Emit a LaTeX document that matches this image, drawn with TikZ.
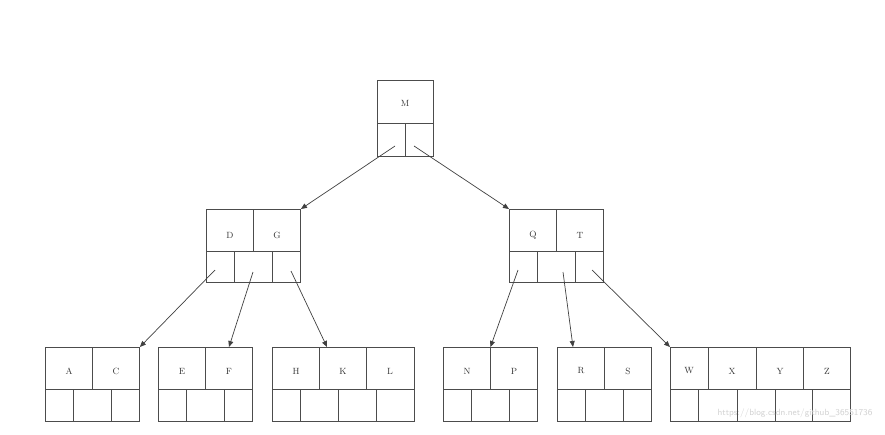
\documentclass[tikz,border=0pt]{standalone}
\usetikzlibrary{arrows.meta}
\begin{document}
\begin{tikzpicture}[x=1pt,y=-1pt,
  box/.style={draw=black!70,line width=0.9pt,inner sep=0pt,anchor=north west},
  key/.style={font=\small,text=black!80},
  div/.style={draw=black!70,line width=0.9pt},
  conn/.style={draw=black!75,line width=0.7pt,-{Triangle[length=6pt,width=5pt]}}]
\useasboundingbox (0,0) rectangle (885,434);
% root
\node[box,minimum width=56pt,minimum height=76pt] (root) at (377,80) {};
\draw[div] (377,123)--(433,123) (405,123)--(405,156);
\node[key] (kM) at (405,103) {M};
% DG
\node[box,minimum width=94pt,minimum height=73pt] (dg) at (206,209) {};
\draw[div] (206,251)--(300,251) (253,209)--(253,251) (234,251)--(234,282) (272,251)--(272,282);
\node[key] (kD) at (230,235) {D};
\node[key] (kG) at (277,235) {G};
% QT
\node[box,minimum width=94pt,minimum height=73pt] (qt) at (509,209) {};
\draw[div] (509,251)--(603,251) (556,209)--(556,251) (537,251)--(537,282) (575,251)--(575,282);
\node[key] (kQ) at (533,235) {Q};
\node[key] (kT) at (580,235) {T};
% leaves
\node[box,minimum width=94pt,minimum height=74pt] (ac) at (45,347) {};
\draw[div] (45,389)--(139,389) (92,347)--(92,389) (73,389)--(73,421) (111,389)--(111,421);
\node[key] (kA) at (69,371) {A};
\node[key] (kC) at (116,371) {C};
\node[box,minimum width=94pt,minimum height=74pt] (ef) at (158,347) {};
\draw[div] (158,389)--(252,389) (205,347)--(205,389) (186,389)--(186,421) (224,389)--(224,421);
\node[key] (kE) at (182,371) {E};
\node[key] (kF) at (229,371) {F};
\node[box,minimum width=142pt,minimum height=74pt] (hkl) at (272,347) {};
\draw[div] (272,389)--(414,389) (319,347)--(319,389) (366,347)--(366,389)
  (300,389)--(300,421) (338,389)--(338,421) (376,389)--(376,421);
\node[key] (kH) at (296,371) {H};
\node[key] (kK) at (343,371) {K};
\node[key] (kL) at (390,371) {L};
\node[box,minimum width=94pt,minimum height=74pt] (np) at (443,347) {};
\draw[div] (443,389)--(537,389) (490,347)--(490,389) (471,389)--(471,421) (509,389)--(509,421);
\node[key] (kN) at (467,371) {N};
\node[key] (kP) at (514,371) {P};
\node[box,minimum width=94pt,minimum height=74pt] (rs) at (557,347) {};
\draw[div] (557,389)--(651,389) (604,347)--(604,389) (585,389)--(585,421) (623,389)--(623,421);
\node[key] (kR) at (581,371) {R};
\node[key] (kS) at (628,371) {S};
\node[box,minimum width=180pt,minimum height=74pt] (wz) at (670,347) {};
\draw[div] (670,389)--(850,389) (708,347)--(708,389) (756,347)--(756,389) (803,347)--(803,389)
  (698,389)--(698,421) (737,389)--(737,421) (775,389)--(775,421) (812,389)--(812,421);
\node[key] (kW) at (689,371) {W};
\node[key] (kX) at (732,371) {X};
\node[key] (kY) at (780,371) {Y};
\node[key] (kZ) at (827,371) {Z};
% pointer coordinates
\coordinate (r1) at (395,146); \coordinate (r2) at (414,146);
\coordinate (d1) at (215,270); \coordinate (d2) at (253,272); \coordinate (d3) at (291,271);
\coordinate (q1) at (518,270); \coordinate (q2) at (563,272); \coordinate (q3) at (592,270);
\draw[conn] (r1) -- (dg.north east);
\draw[conn] (r2) -- (qt.north west);
\draw[conn] (d1) -- (ac.north east);
\draw[conn] (d2) -- (kF |- ef.north);
\draw[conn] (d3) -- (hkl.north -| 327,0);
\draw[conn] (q1) -- (np.north);
\draw[conn] (q2) -- (rs.north -| 573,0);
\draw[conn] (q3) -- (wz.north west);
\node[text=black!18,font=\sffamily\small,anchor=east] (wm) at (876,413) {https://blog.csdn.net/github\_36551736};
\end{tikzpicture}
\end{document}
